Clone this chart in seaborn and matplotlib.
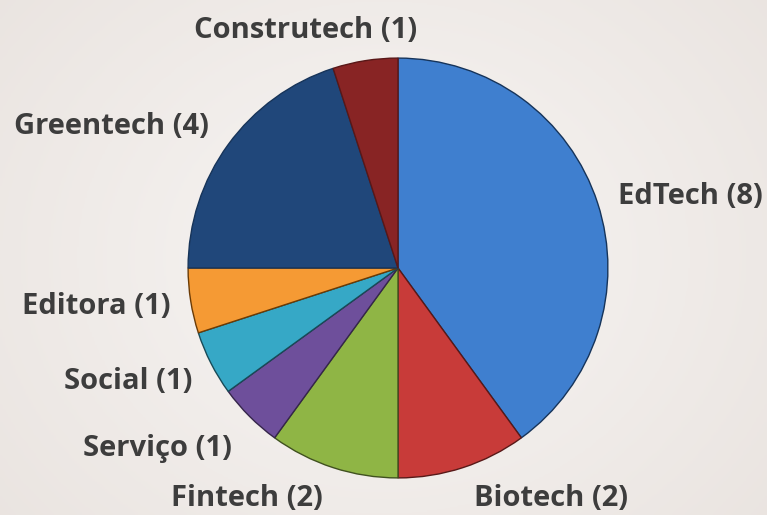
import numpy as np
import matplotlib
matplotlib.use("Agg")
import matplotlib.pyplot as plt
import seaborn as sns

# data
categories = ["EdTech", "Biotech", "Fintech", "Serviço", "Social", "Editora", "Greentech", "Construtech"]
counts = [8, 2, 2, 1, 1, 1, 4, 1]
colors = ["#3f7fcf", "#c83b39", "#8fb545", "#6e4f9b", "#36a8c6", "#f59a34", "#20477a", "#882424"]

# label layout in pie units (radius = 1): x, y, horizontal alignment
label_pos = [(1.05, 0.34, "left"), (0.73, -1.10, "center"), (-0.72, -1.10, "center"),
             (-0.79, -0.86, "right"), (-0.98, -0.54, "right"), (-1.085, -0.185, "right"),
             (-0.90, 0.675, "right"), (-0.44, 1.13, "center")]

sns.set_theme(style="white")
plt.rcParams["font.family"] = ["Open Sans", "DejaVu Sans"]

W, H = 767, 515
fig = plt.figure(figsize=(W / 100, H / 100), dpi=100)

# soft background
bg = fig.add_axes([0, 0, 1, 1])
yy, xx = np.mgrid[0:1:200j, 0:1:300j]
r = np.sqrt((xx - 0.5) ** 2 + ((yy - 0.5) * 0.8) ** 2)
bg.imshow(1 - r, cmap=sns.blend_palette(["#e9e3df", "#f6f3f1"], as_cmap=True),
          extent=[0, 1, 0, 1], aspect="auto", vmin=0.3, vmax=0.9)
bg.axis("off")

cx, cy, rad = 398, 268, 212
ax = fig.add_axes([(cx - rad) / W, (H - cy - rad) / H, 2 * rad / W, 2 * rad / H])
darker = [sns.set_hls_values(c, l=0.22) for c in colors]
wedges, _ = ax.pie(counts, colors=colors, startangle=90, counterclock=False,
                   wedgeprops=dict(linewidth=1.0), radius=1)
for w, ec in zip(wedges, darker):
    w.set_edgecolor(ec)
ax.set_xlim(-1.01, 1.01)
ax.set_ylim(-1.01, 1.01)
ax.axis("off")

for name, n, (lx, ly, ha) in zip(categories, counts, label_pos):
    ax.text(lx, ly, f"{name} ({n})", ha=ha, va="center", fontsize=21,
            fontweight="bold", color="#3d3d3d", clip_on=False)

fig.savefig("out.png", dpi=100)
